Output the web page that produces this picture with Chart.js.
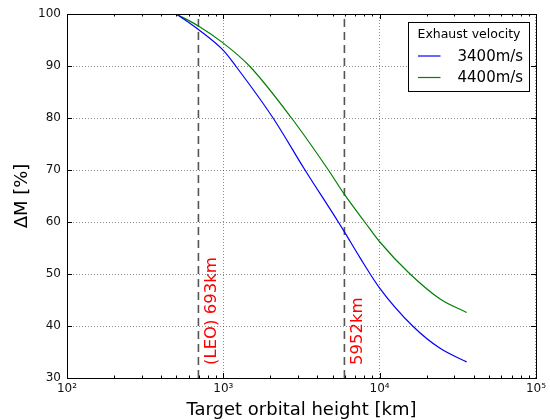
<!DOCTYPE html>
<html>
<head>
<meta charset="utf-8">
<script src="https://cdn.jsdelivr.net/npm/chart.js@4.4.1/dist/chart.umd.min.js"></script>
<style>
  html, body { margin: 0; padding: 0; background: #fff; }
</style>
</head>
<body>
<canvas id="deltaMChart" width="550" height="420"></canvas>
<script>
// target orbital height [km] and delta M [%] for each exhaust velocity
const heights3400 = [500, 693, 1000, 1200, 2080, 3330, 5440, 5952, 7500, 10000, 16270, 24350, 36000];
const dm3400 = [100, 97.0, 93.0, 90.0, 80.0, 70.0, 60.0, 58.1, 53.1, 47.3, 40.0, 35.7, 33.1];
const heights4400 = [500, 693, 1000, 1470, 2730, 4700, 5952, 8030, 10000, 15650, 24350, 36000];
const dm4400 = [100, 97.7, 94.4, 90.0, 80.0, 70.0, 65.3, 60.0, 56.2, 50.0, 45.2, 42.6];
const seriesLabels = ['3400m/s', '4400m/s'];
const seriesColors = ['#0000ff', '#008000'];

const markerHeights = [693, 5952];
const markerLabels = ['(LEO) 693km', '5952km'];

const xMajorTicks = [100, 1000, 10000, 100000];
const xTickLabels = ['10²', '10³', '10⁴', '10⁵'];
const yMin = 30, yMax = 100, yStep = 10;

const FONT = "'DejaVu Sans', sans-serif";

function toPoints(xs, ys) {
    return xs.map((x, i) => ({ x: x, y: ys[i] }));
}

const datasets = [[heights3400, dm3400], [heights4400, dm4400]].map((s, i) => ({
    label: seriesLabels[i],
    data: toPoints(s[0], s[1]),
    borderColor: seriesColors[i],
    borderWidth: 1.2,
    pointRadius: 0,
    fill: false,
    cubicInterpolationMode: 'monotone'
}));
markerHeights.forEach(h => {
    datasets.push({
        label: '',
        isMarker: true,
        data: [{ x: h, y: yMin }, { x: h, y: yMax }],
        borderColor: '#555555',
        borderWidth: 1.6,
        borderDash: [8, 5],
        pointRadius: 0,
        fill: false
    });
});

// all log ticks 1..9 x 10^n between 10^2 and 10^5
function logTicks() {
    const out = [];
    for (let e = 2; e < 5; e++) {
        for (let m = 1; m < 10; m++) out.push({ value: m * Math.pow(10, e) });
    }
    out.push({ value: 100000 });
    return out;
}

const framePlugin = {
    id: 'frame',
    afterDraw(chart) {
        const ctx = chart.ctx;
        const a = chart.chartArea;
        const xs = chart.scales.x, ys = chart.scales.y;
        ctx.save();

        // marker labels
        ctx.fillStyle = '#ff0000';
        ctx.font = '16.5px ' + FONT;
        ctx.textAlign = 'left';
        ctx.textBaseline = 'alphabetic';
        markerHeights.forEach((h, i) => {
            const px = xs.getPixelForValue(h);
            ctx.save();
            ctx.translate(px + 17.5, a.bottom - 13);
            ctx.rotate(-Math.PI / 2);
            ctx.fillText(markerLabels[i], 0, 0);
            ctx.restore();
        });

        // inward ticks
        ctx.strokeStyle = '#000';
        ctx.lineWidth = 1;
        ctx.beginPath();
        xs.ticks.forEach(t => {
            const px = Math.round(xs.getPixelForValue(t.value)) + 0.5;
            const len = xMajorTicks.includes(t.value) ? 5 : 2.5;
            ctx.moveTo(px, a.bottom); ctx.lineTo(px, a.bottom - len);
            ctx.moveTo(px, a.top); ctx.lineTo(px, a.top + len);
        });
        ys.ticks.forEach(t => {
            const py = Math.round(ys.getPixelForValue(t.value)) + 0.5;
            ctx.moveTo(a.left, py); ctx.lineTo(a.left + 5, py);
            ctx.moveTo(a.right, py); ctx.lineTo(a.right - 5, py);
        });
        ctx.stroke();

        // axes box
        ctx.strokeRect(Math.round(a.left) + 0.5, Math.round(a.top) + 0.5,
            Math.round(a.right - a.left), Math.round(a.bottom - a.top));

        // legend
        const bw = 121, bh = 69;
        const bx = Math.round(a.right) - 7 - bw + 0.5;
        const by = Math.round(a.top) + 8 + 0.5;
        ctx.fillStyle = '#fff';
        ctx.fillRect(bx, by, bw, bh);
        ctx.strokeStyle = '#000';
        ctx.strokeRect(bx, by, bw, bh);
        ctx.fillStyle = '#000';
        ctx.font = '12.5px ' + FONT;
        ctx.textAlign = 'center';
        ctx.textBaseline = 'middle';
        ctx.fillText('Exhaust velocity', bx + bw / 2, by + 12);
        ctx.font = '15px ' + FONT;
        ctx.textAlign = 'left';
        chart.data.datasets.filter(d => !d.isMarker).forEach((d, i) => {
            const ly = by + 33.5 + i * 21.5;
            ctx.strokeStyle = d.borderColor;
            ctx.lineWidth = 1.2;
            ctx.beginPath();
            ctx.moveTo(bx + 9.5, ly);
            ctx.lineTo(bx + 32, ly);
            ctx.stroke();
            ctx.fillText(d.label, bx + 49, ly + 1);
        });
        ctx.restore();
    }
};

const gridColor = 'rgba(0,0,0,0.45)';

new Chart(document.getElementById('deltaMChart'), {
    type: 'line',
    data: { datasets: datasets },
    options: {
        responsive: false,
        animation: false,
        devicePixelRatio: 1,
        layout: { padding: { top: 14, right: 14, left: 0, bottom: 0 } },
        plugins: {
            legend: { display: false },
            tooltip: { enabled: false }
        },
        scales: {
            x: {
                type: 'logarithmic',
                min: 100,
                max: 100000,
                afterBuildTicks: scale => { scale.ticks = logTicks(); },
                afterFit: scale => { scale.height = 42; },
                ticks: {
                    autoSkip: false,
                    maxRotation: 0,
                    padding: 4,
                    color: '#111',
                    font: { family: FONT, size: 12 },
                    callback: value => {
                        const i = xMajorTicks.indexOf(value);
                        return i >= 0 ? xTickLabels[i] : '';
                    }
                },
                grid: {
                    drawTicks: false,
                    lineWidth: 1,
                    color: c => (c.tick && xMajorTicks.includes(c.tick.value)) ? gridColor : 'rgba(0,0,0,0)'
                },
                border: { display: false, dash: [1, 2] },
                title: {
                    display: true,
                    text: 'Target orbital height [km]',
                    color: '#000',
                    font: { family: FONT, size: 18 },
                    padding: { top: 0, bottom: -1 }
                }
            },
            y: {
                min: yMin,
                max: yMax,
                afterFit: scale => { scale.width = 67; },
                ticks: {
                    stepSize: yStep,
                    padding: 6,
                    color: '#111',
                    font: { family: FONT, size: 12 }
                },
                grid: { drawTicks: false, lineWidth: 1, color: gridColor },
                border: { display: false, dash: [1, 2] },
                title: {
                    display: true,
                    text: 'ΔM [%]',
                    color: '#000',
                    font: { family: FONT, size: 18 },
                    padding: { top: 12, bottom: 0 }
                }
            }
        }
    },
    plugins: [framePlugin]
});
</script>
</body>
</html>
